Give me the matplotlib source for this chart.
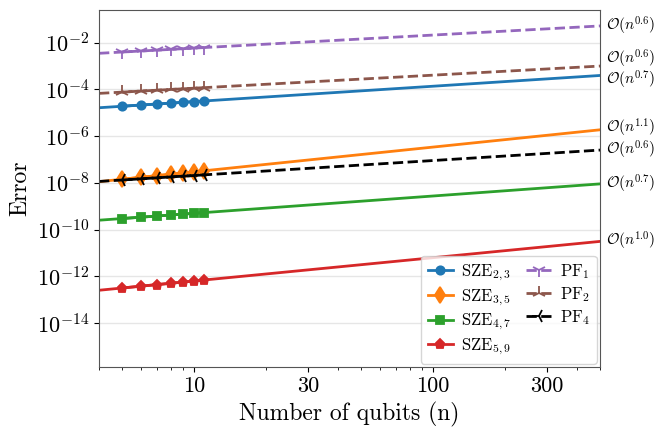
import numpy as np
import matplotlib
matplotlib.use('Agg')
import matplotlib.pyplot as plt
import matplotlib.transforms as mtransforms
from matplotlib.ticker import FixedLocator, NullFormatter, LogLocator, NullLocator

plt.rcParams['font.family'] = 'serif'
plt.rcParams['font.serif'] = ['cmr10', 'DejaVu Serif']
plt.rcParams['mathtext.fontset'] = 'cm'
plt.rcParams['axes.formatter.use_mathtext'] = True
plt.rcParams['axes.unicode_minus'] = False

# number of qubits
n = np.array([5, 6, 7, 8, 9, 10, 11])

# errors
sze_23 = np.array([1.9e-5, 2.15e-5, 2.37e-5, 2.6e-5, 2.8e-5, 3.0e-5, 3.2e-5])
sze_35 = np.array([1.42e-8, 1.73e-8, 2.03e-8, 2.34e-8, 2.65e-8, 2.96e-8, 3.28e-8])
sze_47 = np.array([2.96e-10, 3.39e-10, 3.8e-10, 4.2e-10, 4.58e-10, 4.95e-10, 5.31e-10])
sze_59 = np.array([3.14e-13, 3.77e-13, 4.39e-13, 5.02e-13, 5.64e-13, 6.27e-13, 6.9e-13])
pf_1 = np.array([3.98e-3, 4.42e-3, 4.81e-3, 5.19e-3, 5.53e-3, 5.87e-3, 6.19e-3])
pf_2 = np.array([7.66e-5, 8.49e-5, 9.25e-5, 9.98e-5, 1.06e-4, 1.13e-4, 1.19e-4])
pf_4 = np.array([1.32e-8, 1.49e-8, 1.64e-8, 1.79e-8, 1.93e-8, 2.06e-8, 2.19e-8])

labels = [r'$\mathrm{SZE}_{2,3}$', r'$\mathrm{SZE}_{3,5}$', r'$\mathrm{SZE}_{4,7}$',
          r'$\mathrm{SZE}_{5,9}$', r'$\mathrm{PF}_{1}$', r'$\mathrm{PF}_{2}$', r'$\mathrm{PF}_{4}$']
series = [sze_23, sze_35, sze_47, sze_59, pf_1, pf_2, pf_4]
colors = ['C0', 'C1', 'C2', 'C3', 'C4', 'C5', 'k']
markers = ['o', 'd', 's', 'p', '1', '2', '3']
styles = ['-', '-', '-', '-', '--', '--', '--']
msizes = [6, 8, 6, 6.5, 10, 10, 10]
# small vertical nudges (points) for the exponent labels so they don't collide
nudges = [-3.2, 1, 0, 0, 0, 4.8, 0]

fig = plt.figure(figsize=(6.58, 4.28), dpi=100)
ax = fig.add_axes([0.1505, 0.1425, 0.7614, 0.834])

xmin, xmax = 4, 500
n_fit = np.array([xmin, xmax])

for y, lab, c, m, ls, ms, dy in zip(series, labels, colors, markers, styles, msizes, nudges):
    p = np.polyfit(np.log10(n), np.log10(y), 1)
    y_fit = 10 ** np.polyval(p, np.log10(n_fit))
    ax.plot(n_fit, y_fit, ls, color=c, lw=2)
    ax.plot(n, y, ls, color=c, marker=m, ms=ms, mew=1.3, lw=2, label=lab)
    trans = mtransforms.offset_copy(ax.get_yaxis_transform(), fig=fig, x=4.5, y=dy, units='points')
    ax.text(1.0, y_fit[-1], r'$\mathcal{O}(n^{%.1f})$' % p[0], transform=trans,
            fontsize=11, va='center', ha='left')

ax.set_xscale('log')
ax.set_yscale('log')
ax.set_xlim(xmin, xmax)
ax.set_ylim(1.3e-16, 2.5e-1)

ax.xaxis.set_major_locator(FixedLocator([10, 30, 100, 300]))
ax.set_xticklabels(['10', '30', '100', '300'])
ax.xaxis.set_minor_locator(LogLocator(base=10, subs=np.arange(2, 10)))
ax.xaxis.set_minor_formatter(NullFormatter())
ax.yaxis.set_major_locator(FixedLocator([1e-2, 1e-4, 1e-6, 1e-8, 1e-10, 1e-12, 1e-14]))
ax.yaxis.set_minor_locator(NullLocator())

ax.grid(axis='y', color='#e6e6e6', lw=1)
ax.set_axisbelow(True)
ax.tick_params(labelsize=16)
for s in ax.spines.values():
    s.set_color('#555555')

ax.set_xlabel('Number of qubits (n)', fontsize=17)
ax.set_ylabel('Error', fontsize=17)

ax.legend(ncol=2, loc='lower right', fontsize=12, handlelength=1.5, columnspacing=0.9,
          labelspacing=0.25, handletextpad=0.5, borderaxespad=0.2)

fig.savefig('out.png', dpi=100)
